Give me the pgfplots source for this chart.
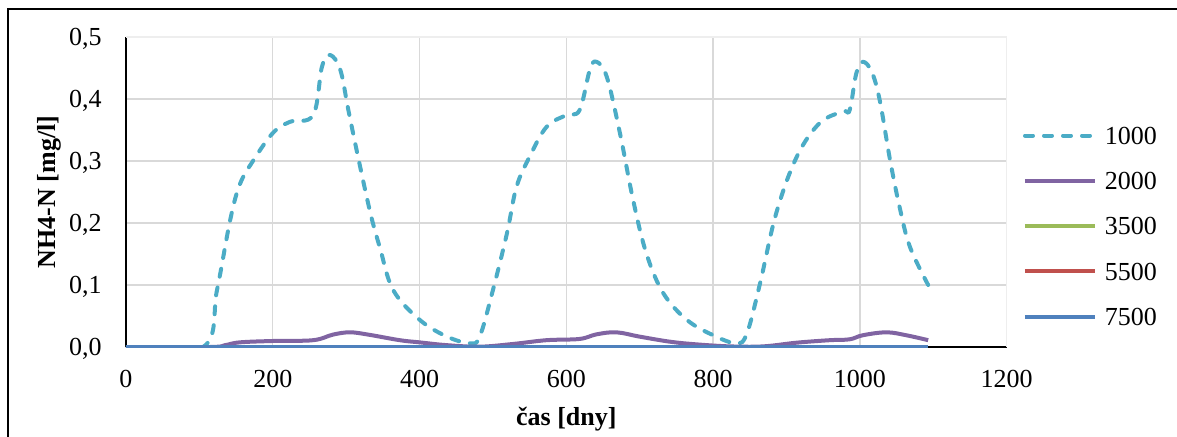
\documentclass[border=0pt]{standalone}
\usepackage{pgfplots}
\pgfplotsset{compat=1.18}
\usepackage{fontspec}
\setmainfont{Liberation Serif}
\definecolor{cA}{HTML}{4BACC6}
\definecolor{cB}{HTML}{8064A2}
\definecolor{cC}{HTML}{9BBB59}
\definecolor{cD}{HTML}{C0504D}
\definecolor{cE}{HTML}{4F81BD}
\definecolor{gridc}{HTML}{D9D9D9}
\begin{document}
\begin{tikzpicture}
\path[use as bounding box] (0,0) rectangle (588.5pt,218pt);
\draw[line width=1pt] (4pt,-1pt) -- (4pt,213.5pt) -- (590pt,213.5pt);
\begin{axis}[
  at={(63pt,44.5pt)}, anchor=south west,
  scale only axis, width=440.35pt, height=155pt,
  xmin=0, xmax=1200, ymin=0, ymax=0.5,
  xtick={0,200,...,1000}, ytick={0,0.1,...,0.4},
  extra x ticks={1200}, extra y ticks={0.5},
  extra tick style={grid style={color=gridc!45, line width=0.7pt}},
  grid=major, grid style={color=gridc, line width=0.7pt},
  axis x line*=bottom, axis y line*=left,
  axis line style={-, black, line width=1pt},
  major tick length=0pt,
  tick style={draw=none},
  font=\fontsize{13}{15}\selectfont,
  /pgf/number format/assume math mode=true,
  xticklabel style={inner sep=0pt, anchor=north, yshift=-11.5pt, /pgf/number format/1000 sep={}},
  yticklabel style={inner sep=0pt, anchor=east, xshift=-12pt, text depth=0pt,
    /pgf/number format/.cd, fixed, fixed zerofill, precision=1, use comma},
  xlabel={\bfseries čas [dny]},
  ylabel={\bfseries NH4-N [mg/l]},
  x label style={at={(axis description cs:0.5,-0.2516)}, anchor=base, inner sep=0pt},
  y label style={at={(axis description cs:-0.0806,0.5)}, anchor=base, inner sep=0pt},
  legend cell align=left,
  legend style={at={(1.0185,0.71)}, anchor=north west, draw=none, fill=none,
    inner sep=0pt, outer sep=0pt,
    row sep=14pt, font=\fontsize{13}{15}\selectfont,
    nodes={inner sep=0pt, text depth=0pt},
    /tikz/every odd column/.append style={column sep=4pt}},
  legend image code/.code={\draw[#1] (0pt,0pt) -- (35pt,0pt);},
  every axis plot/.append style={line width=2pt, line join=round},
]
\addplot[color=cA, line cap=round, dash pattern=on 4pt off 5.5pt, smooth, tension=0.6] coordinates {
(0,0) (105,0) (124,0.092) (142,0.205) (155,0.262) (173,0.300) (200,0.345) (223,0.363) (255,0.374)
(267,0.452) (278,0.471) (292,0.447) (303,0.382) (317,0.302) (333,0.216) (346,0.160) (364,0.092)
(400,0.044) (437,0.017) (469,0.006) (482,0.017) (500,0.092) (519,0.183) (532,0.258) (550,0.307)
(573,0.355) (600,0.374) (618,0.382) (632,0.447) (641,0.460) (655,0.436) (673,0.345) (691,0.237)
(709,0.151) (732,0.087) (764,0.044) (800,0.019) (832,0.006) (846,0.022) (864,0.103) (886,0.216)
(914,0.307) (945,0.361) (977,0.380) (986,0.382) (995,0.441) (1004,0.460) (1016,0.444) (1027,0.398)
(1041,0.302) (1054,0.226) (1068,0.162) (1093,0.100)
};
\addlegendentry{1000}
\addplot[color=cB, smooth, tension=0.6] coordinates {
(0,0) (114,0) (135,0.003) (155,0.0075) (200,0.0097) (255,0.011) (282,0.020) (305,0.0237) (330,0.020)
(373,0.011) (400,0.0075) (437,0.003) (482,0.0005) (528,0.005) (573,0.011) (618,0.013) (641,0.0204)
(668,0.0237) (700,0.0167) (741,0.0086) (777,0.0043) (823,0.001) (868,0.001) (914,0.007) (959,0.011)
(986,0.0124) (1004,0.019) (1036,0.0237) (1063,0.019) (1093,0.011)
};
\addlegendentry{2000}
\addplot[color=cC] coordinates {(0,0) (1093,0)};
\addlegendentry{3500}
\addplot[color=cD] coordinates {(0,0) (1093,0)};
\addlegendentry{5500}
\addplot[color=cE] coordinates {(0,0) (1093,0)};
\addlegendentry{7500}
\end{axis}
\end{tikzpicture}
\end{document}
